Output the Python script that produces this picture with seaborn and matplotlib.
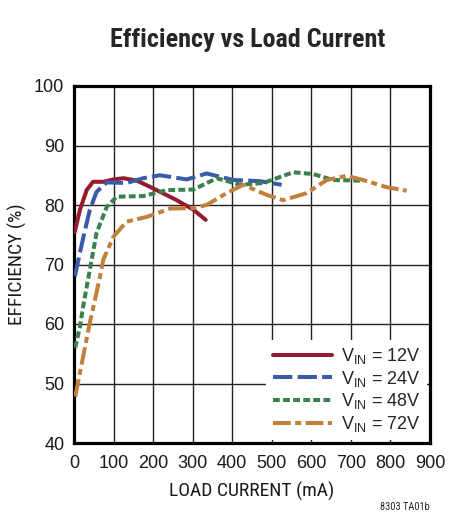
import pandas as pd
import seaborn as sns
import matplotlib.pyplot as plt
from matplotlib import font_manager
from matplotlib.lines import Line2D

# values (load current in mA, efficiency in %)
i_12v = [2, 15, 32, 48, 74, 100, 125, 159, 200, 260, 302, 333]
eff_12v = [75.5, 79.2, 82.5, 83.9, 83.9, 84.3, 84.5, 84.1, 82.8, 80.8, 79.2, 77.5]

i_24v = [2, 24, 40, 57, 83, 133, 175, 217, 285, 335, 403, 470, 525]
eff_24v = [68.0, 74.7, 79.2, 82.2, 83.8, 83.7, 84.5, 85.0, 84.3, 85.3, 84.2, 84.0, 83.4]

i_48v = [3, 15, 23, 40, 57, 83, 108, 175, 234, 302, 361, 420, 479, 554, 605, 655, 723]
eff_48v = [56.0, 59.5, 62.9, 69.1, 75.3, 79.7, 81.4, 81.5, 82.5, 82.6, 84.5, 83.4, 83.7, 85.5, 85.2, 84.2, 84.1]

i_72v = [3, 15, 40, 66, 74, 100, 133, 184, 243, 302, 335, 386, 428, 487, 529, 588, 639, 690, 731, 790, 841]
eff_72v = [47.8, 51.8, 60.2, 68.0, 70.8, 74.7, 77.2, 78.0, 79.4, 79.5, 80.0, 82.0, 83.4, 81.7, 80.8, 82.0, 84.2, 84.9, 84.2, 83.0, 82.4]

series = ["12V", "24V", "48V", "72V"]
xticks = list(range(0, 901, 100))
yticks = list(range(40, 101, 10))

colors = {"12V": "#961b2e", "24V": "#3a5ba9", "48V": "#3b8150", "72V": "#c2803d"}
dashes = {"12V": "-", "24V": (0, (4.8, 1.3)), "48V": (0, (1.7, 0.8)),
          "72V": (0, (4.4, 1.1, 1.5, 1.1))}


def first_font(names):
    for n in names:
        try:
            font_manager.findfont(font_manager.FontProperties(family=n),
                                  fallback_to_default=False)
            return n
        except ValueError:
            pass
    return "Liberation Sans"


narrow = first_font(["Liberation Sans Narrow", "Roboto Condensed", "Open Sans Condensed",
                     "DejaVu Sans Condensed", "Liberation Sans"])

sns.set_style("white")
plt.rcParams["font.family"] = ["Liberation Sans", "DejaVu Sans"]
plt.rcParams["mathtext.fontset"] = "custom"
plt.rcParams["mathtext.rm"] = "Liberation Sans"

fig = plt.figure(figsize=(4.56, 5.29), dpi=100)
ax = fig.add_axes([74 / 456, 1 - 443 / 529, 356 / 456, 357 / 529])

data = {"12V": (i_12v, eff_12v), "24V": (i_24v, eff_24v),
        "48V": (i_48v, eff_48v), "72V": (i_72v, eff_72v)}
for s in series:
    x, y = data[s]
    df = pd.DataFrame({"current": x, "eff": y})
    sns.lineplot(data=df, x="current", y="eff", ax=ax, color=colors[s],
                 linewidth=2.9, linestyle=dashes[s], zorder=3)

ax.set_xlim(0, 900)
ax.set_ylim(40, 100)
ax.set_xticks(xticks)
ax.set_yticks(yticks)
ax.tick_params(length=0, labelsize=13, colors="#1a1a1a")
ax.tick_params(axis="x", pad=9)
ax.tick_params(axis="y", pad=7)
ax.grid(True, color="#222222", linewidth=1.0)
for sp in ax.spines.values():
    sp.set_linewidth(2.3)
    sp.set_color("black")
ax.set_xlabel("LOAD CURRENT (mA)", fontsize=14, labelpad=7, color="#1a1a1a",
              family=[narrow, "DejaVu Sans"])
ax.set_ylabel("EFFICIENCY (%)", fontsize=14, labelpad=5, color="#1a1a1a",
              family=[narrow, "DejaVu Sans"])

handles = [Line2D([], [], color=colors[s], linewidth=2.9, linestyle=dashes[s]) for s in series]
labels = [r"V$_{\mathrm{IN}}$ = " + s for s in series]
leg = ax.legend(handles, labels, loc="lower right", fontsize=13, frameon=True,
                fancybox=False, edgecolor="none", facecolor="white", framealpha=1,
                handlelength=3.3, labelspacing=0.15, borderaxespad=0.15,
                handletextpad=0.5, borderpad=0.35)
leg.set_zorder(5)

title = fig.text(248 / 456, 1 - 40 / 529, "Efficiency vs Load Current", ha="center",
                 va="center", fontsize=19, fontweight="bold", family=[narrow, "DejaVu Sans"])
# shrink the title a little if no condensed face is present
fig.canvas.draw()
w = title.get_window_extent().width
if w > 275:
    title.set_fontsize(19 * 275 / w)
fig.text(430 / 456, 1 - 507 / 529, "8303 TA01b", ha="right", va="center", fontsize=7.5,
         family=[narrow, "DejaVu Sans"])

fig.savefig("out.png", dpi=100)
